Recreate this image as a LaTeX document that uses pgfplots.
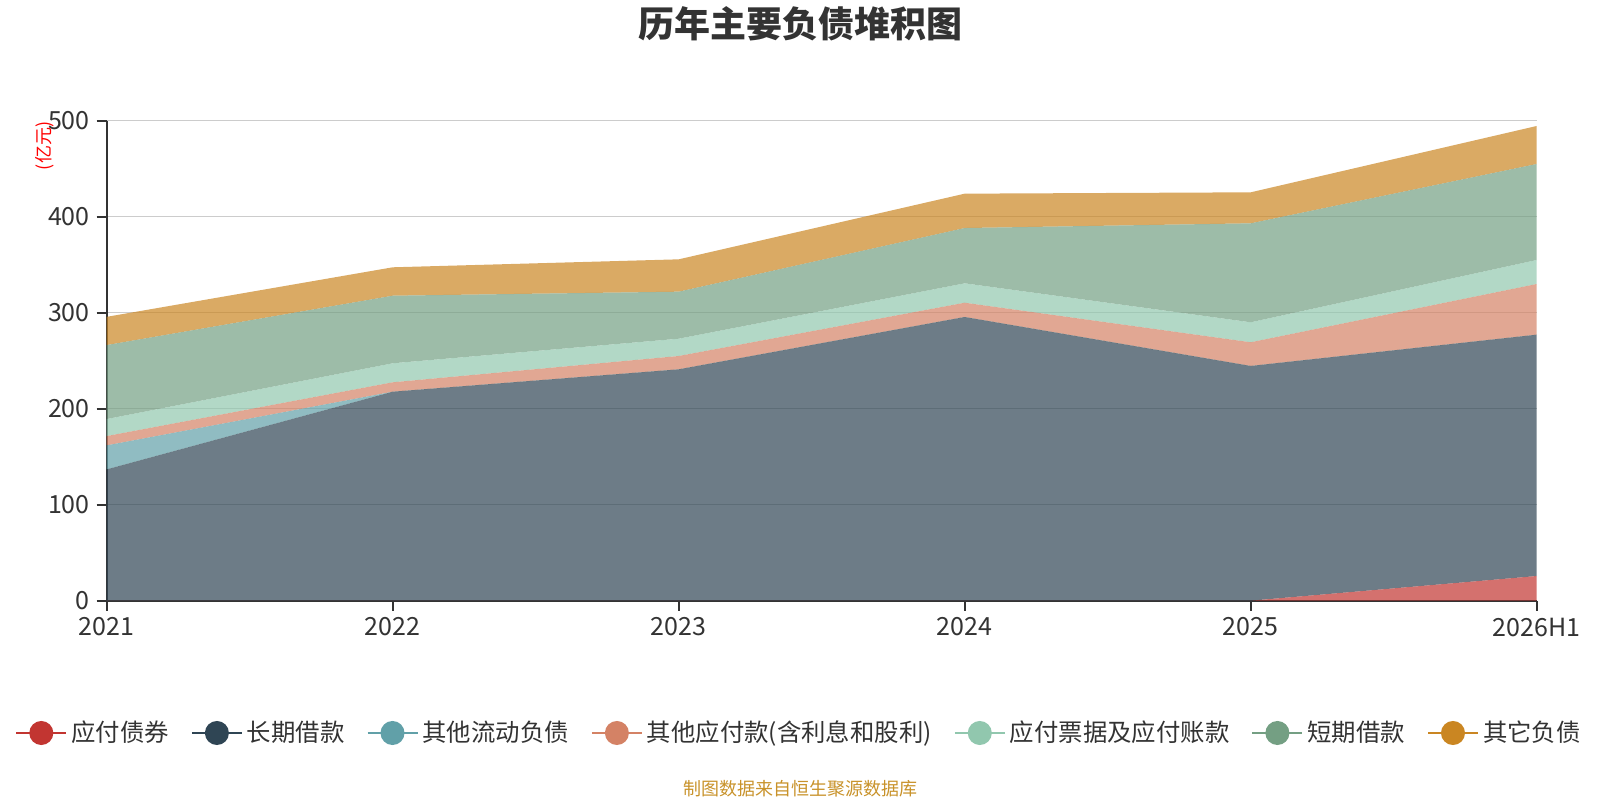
\documentclass[border=0pt]{standalone}
\usepackage{pgfplots}
\pgfplotsset{compat=1.18}
\usepackage{fontspec}
\setmainfont{Noto Sans CJK SC}
\definecolor{c1}{HTML}{C23531}
\definecolor{c2}{HTML}{2F4554}
\definecolor{c3}{HTML}{61A0A8}
\definecolor{c4}{HTML}{D48265}
\definecolor{c5}{HTML}{91C7AE}
\definecolor{c6}{HTML}{749F83}
\definecolor{c7}{HTML}{CA8622}
\definecolor{txt}{HTML}{333333}
\definecolor{src}{HTML}{C8922A}
\definecolor{gridc}{HTML}{CCCCCC}
\begin{document}
\begin{tikzpicture}
\path[use as bounding box] (0,0) rectangle (800pt,400pt);
\begin{axis}[
  at={(53.35pt,99.65pt)}, anchor=south west,
  scale only axis, width=715pt, height=240pt,
  xmin=0, xmax=5, ymin=0, ymax=500,
  xtick={0,1,2,3,4,5}, xticklabels={2021,2022,2023,2024,2025,2026H1},
  ytick={0,100,200,300,400,500},
  stack plots=y,
  axis x line*=bottom, axis y line*=left,
  axis line style={txt, line width=0.8pt, -},
  tick align=outside, major tick length=5pt,
  tick style={txt, line width=0.8pt},
  ymajorgrids, grid style={color=gridc, line width=0.6pt},
  tick label style={font=\fontsize{12.5}{14}\selectfont, text=txt},
  /pgf/number format/assume math mode=true,
  legend columns=7,
  legend image code/.code={\draw[mark repeat=2,mark phase=2,#1] plot coordinates {(0pt,0pt) (12.5pt,0pt) (25pt,0pt)};},
  legend style={at={(0.4848,-0.2756)}, anchor=center, draw=none, fill=none,
    font=\fontsize{12.2}{14}\selectfont, text=txt,
    /tikz/every even column/.append style={column sep=9pt}},
]
\addplot[draw=none, fill=c1, fill opacity=0.7, forget plot] coordinates {(0,0)(1,0)(2,0)(3,0)(4,0)(5,25.7)} \closedcycle;
\addplot[draw=none, fill=c2, fill opacity=0.7, forget plot] coordinates {(0,136.8)(1,217.7)(2,241.0)(3,295.5)(4,244.5)(5,251.4)} \closedcycle;
\addplot[draw=none, fill=c3, fill opacity=0.7, forget plot] coordinates {(0,25.0)(1,0)(2,0)(3,0)(4,0)(5,0)} \closedcycle;
\addplot[draw=none, fill=c4, fill opacity=0.7, forget plot] coordinates {(0,9.7)(1,9.8)(2,13.9)(3,14.9)(4,24.7)(5,52.8)} \closedcycle;
\addplot[draw=none, fill=c5, fill opacity=0.7, forget plot] coordinates {(0,17.7)(1,19.8)(2,18.0)(3,20.2)(4,20.8)(5,25.0)} \closedcycle;
\addplot[draw=none, fill=c6, fill opacity=0.7, forget plot] coordinates {(0,77.1)(1,70.4)(2,49.0)(3,57.6)(4,103.1)(5,100.0)} \closedcycle;
\addplot[draw=none, fill=c7, fill opacity=0.7, forget plot] coordinates {(0,29.4)(1,29.6)(2,33.7)(3,35.8)(4,32.3)(5,39.6)} \closedcycle;
\addlegendimage{c1, line width=1pt, mark=*, mark size=5.5pt}
\addlegendentry{应付债券}
\addlegendimage{c2, line width=1pt, mark=*, mark size=5.5pt}
\addlegendentry{长期借款}
\addlegendimage{c3, line width=1pt, mark=*, mark size=5.5pt}
\addlegendentry{其他流动负债}
\addlegendimage{c4, line width=1pt, mark=*, mark size=5.5pt}
\addlegendentry{其他应付款(含利息和股利)}
\addlegendimage{c5, line width=1pt, mark=*, mark size=5.5pt}
\addlegendentry{应付票据及应付账款}
\addlegendimage{c6, line width=1pt, mark=*, mark size=5.5pt}
\addlegendentry{短期借款}
\addlegendimage{c7, line width=1pt, mark=*, mark size=5.5pt}
\addlegendentry{其它负债}
\end{axis}
\node[font=\fontsize{18}{20}\selectfont\bfseries, text=txt] at (400pt,388pt) {历年主要负债堆积图};
\node[font=\fontsize{9}{10}\selectfont, text=src] at (400pt,5.5pt) {制图数据来自恒生聚源数据库};
\node[font=\fontsize{9}{10}\selectfont, text=red, rotate=90] at (22.5pt,327pt) {(亿元)};
\end{tikzpicture}
\end{document}
